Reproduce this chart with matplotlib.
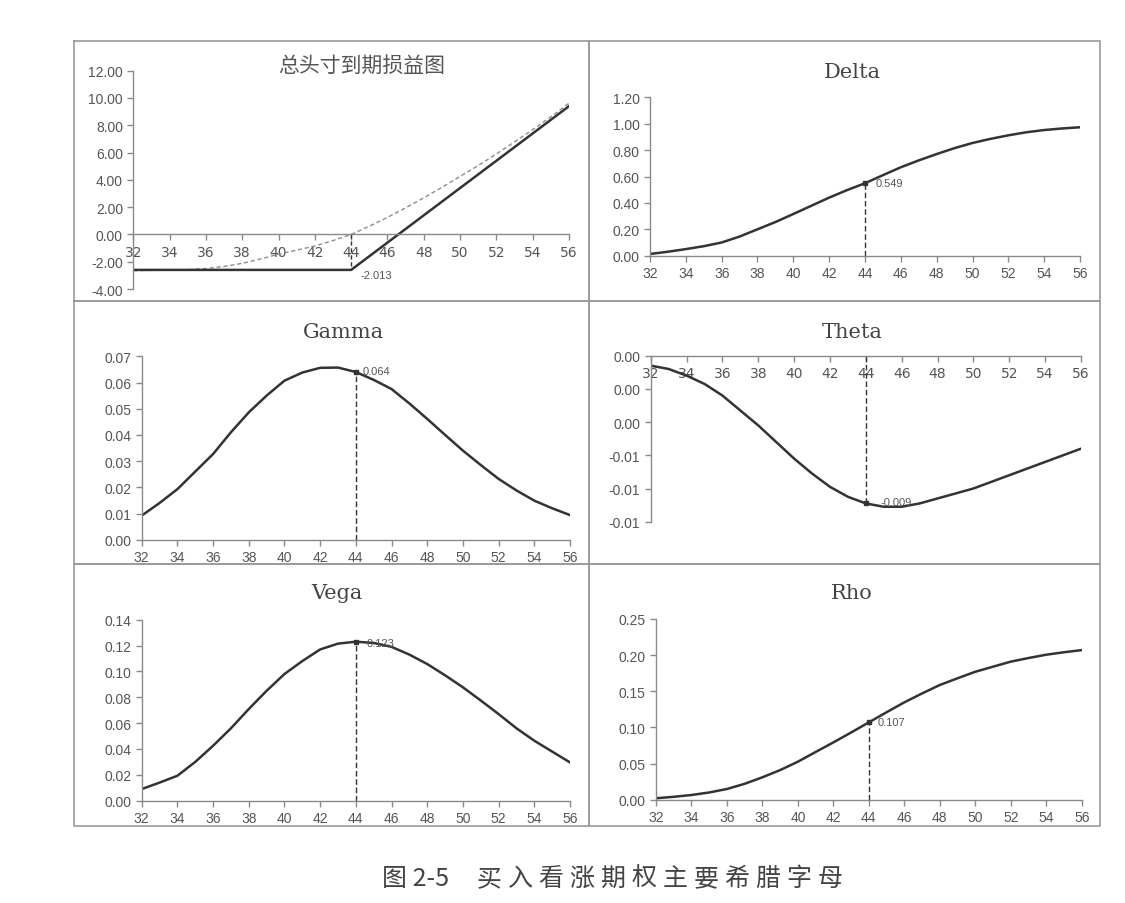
import matplotlib
matplotlib.use("Agg")
import matplotlib.pyplot as plt
from matplotlib.lines import Line2D

W, H = 1125, 904

# underlying price, one point per unit
price = list(range(32, 57))
strike = 44

# 总头寸到期损益图: expiry payoff (solid) and current value (dashed)
payoff_expiry = [-2.6] * 13 + [-1.6, -0.6, 0.4, 1.4, 2.4, 3.4, 4.4, 5.4, 6.4, 7.4, 8.4, 9.4]
payoff_now = [-2.66, -2.64, -2.62, -2.58, -2.5, -2.35, -2.12, -1.8, -1.45, -1.15, -0.85,
              -0.45, 0.0, 0.6, 1.25, 1.95, 2.68, 3.45, 4.25, 5.05, 5.9, 6.78, 7.68, 8.62, 9.62]

delta = [0.013, 0.03, 0.05, 0.072, 0.10, 0.145, 0.20, 0.255, 0.316, 0.378, 0.44, 0.497,
         0.549, 0.61, 0.67, 0.722, 0.77, 0.815, 0.854, 0.885, 0.912, 0.935, 0.952, 0.964, 0.973]
gamma = [0.0092, 0.014, 0.0193, 0.026, 0.0327, 0.041, 0.0486, 0.055, 0.0607, 0.0638, 0.0656,
         0.0657, 0.064, 0.061, 0.0575, 0.052, 0.0461, 0.040, 0.034, 0.0285, 0.0232, 0.0188,
         0.0149, 0.012, 0.0094]
theta = [-0.0006, -0.0008, -0.0012, -0.0017, -0.0024, -0.0033, -0.0042, -0.0052, -0.0062,
         -0.0071, -0.0079, -0.0085, -0.0089, -0.0091, -0.0091, -0.0089, -0.0086, -0.0083,
         -0.0080, -0.0076, -0.0072, -0.0068, -0.0064, -0.0060, -0.0056]
vega = [0.009, 0.014, 0.0193, 0.030, 0.0425, 0.056, 0.0709, 0.085, 0.098, 0.108, 0.117,
        0.1215, 0.123, 0.122, 0.119, 0.113, 0.1057, 0.097, 0.0877, 0.0775, 0.067, 0.056,
        0.0464, 0.038, 0.0296]
rho = [0.002, 0.004, 0.0065, 0.010, 0.0148, 0.022, 0.031, 0.041, 0.0526, 0.066, 0.0793,
       0.093, 0.107, 0.121, 0.1347, 0.147, 0.1587, 0.168, 0.177, 0.184, 0.191, 0.196,
       0.2006, 0.204, 0.207]

titles = ["总头寸到期损益图", "Delta", "Gamma", "Theta", "Vega", "Rho"]
point_labels = ["-2.013", "0.549", "0.064", "-0.009", "0.123", "0.107"]

x_ticks = list(range(32, 57, 2))
payoff_yticks = [-4, -2, 0, 2, 4, 6, 8, 10, 12]
delta_yticks = [0.0, 0.2, 0.4, 0.6, 0.8, 1.0, 1.2]
gamma_yticks = [0.0, 0.01, 0.02, 0.03, 0.04, 0.05, 0.06, 0.07]
theta_yticks = [0.0, -0.002, -0.004, -0.006, -0.008, -0.010]
theta_yticklabels = ["0.00", "0.00", "0.00", "-0.01", "-0.01", "-0.01"]
vega_yticks = [0.0, 0.02, 0.04, 0.06, 0.08, 0.10, 0.12, 0.14]
rho_yticks = [0.0, 0.05, 0.10, 0.15, 0.20, 0.25]

LINE = "#333333"
AXIS = "#8a8a8a"
TXT = "#555555"


def rect(x0, x1, ytop, ybot):
    return [x0 / W, 1 - ybot / H, (x1 - x0) / W, (ybot - ytop) / H]


def style(ax, yticks, ylim, yticklabels=None):
    ax.set_xlim(32, 56)
    ax.set_ylim(*ylim)
    ax.set_xticks(x_ticks)
    ax.set_yticks(yticks)
    if yticklabels is None:
        yticklabels = ["%.2f" % v for v in yticks]
    ax.set_yticklabels(yticklabels)
    for s in ["top", "right"]:
        ax.spines[s].set_visible(False)
    for s in ["left", "bottom"]:
        ax.spines[s].set_color(AXIS)
        ax.spines[s].set_linewidth(1.0)
    ax.tick_params(colors=AXIS, labelcolor=TXT, labelsize=10, length=4, width=1,
                   direction="out")
    ax.patch.set_alpha(0)
    for lab in ax.get_xticklabels() + ax.get_yticklabels():
        lab.set_family("Liberation Sans")


def mark(ax, series, label, base=0.0, dx=0.35, dy=0.0):
    yv = series[price.index(strike)]
    ax.plot([strike, strike], [base, yv], color=LINE, lw=1, ls=(0, (4, 2)))
    ax.plot([strike], [yv], marker="s", ms=2.5, color=LINE)
    ax.text(strike + dx, yv + dy, label, fontsize=8, color=TXT, va="center",
            family="Liberation Sans")


fig = plt.figure(figsize=(W / 100, H / 100), dpi=100)
fig.patch.set_facecolor("white")

# panel frames
for x0, x1, y0, y1 in [(74, 589, 42, 302), (589, 1100, 42, 302),
                       (74, 589, 302, 565), (589, 1100, 302, 565),
                       (74, 589, 565, 827), (589, 1100, 565, 827)]:
    fig.add_artist(Line2D([x0 / W, x1 / W, x1 / W, x0 / W, x0 / W],
                          [1 - y0 / H, 1 - y0 / H, 1 - y1 / H, 1 - y1 / H, 1 - y0 / H],
                          color="#9a9a9a", lw=1.2, transform=fig.transFigure))

# payoff
ax = fig.add_axes(rect(133.3, 569, 71.7, 290))
ax.plot(price, payoff_now, color="#8c8c8c", lw=1.0, ls=(0, (3, 2)))
ax.plot(price, payoff_expiry, color=LINE, lw=1.8)
style(ax, payoff_yticks, (-4, 12))
ax.spines["bottom"].set_position(("data", 0))
ax.plot([strike, strike], [0, payoff_expiry[price.index(strike)]], color=LINE, lw=1,
        ls=(0, (3, 2)))
ax.text(44.5, -2.95, point_labels[0], fontsize=8, color=TXT, va="center",
        family="Liberation Sans")

# delta
ax = fig.add_axes(rect(650, 1080, 98.3, 256.7))
ax.plot(price, delta, color=LINE, lw=1.8)
style(ax, delta_yticks, (0, 1.2))
mark(ax, delta, point_labels[1], dx=0.6)

# gamma
ax = fig.add_axes(rect(141.7, 570, 357.3, 540.7))
ax.plot(price, gamma, color=LINE, lw=1.8)
style(ax, gamma_yticks, (0, 0.07))
mark(ax, gamma, point_labels[2], dx=0.4, dy=0.0005)

# theta
ax = fig.add_axes(rect(650.7, 1081, 356.7, 522.7))
ax.plot(price, theta, color=LINE, lw=1.8)
style(ax, theta_yticks, (-0.010, 0.0), theta_yticklabels)
ax.spines["bottom"].set_position(("data", 0))
mark(ax, theta, point_labels[3], dx=0.8, dy=0.0001)

# vega
ax = fig.add_axes(rect(141.7, 570, 620.7, 801.7))
ax.plot(price, vega, color=LINE, lw=1.8)
style(ax, vega_yticks, (0, 0.14))
mark(ax, vega, point_labels[4], dx=0.6, dy=-0.001)

# rho
ax = fig.add_axes(rect(656, 1081.7, 620, 800.7))
ax.plot(price, rho, color=LINE, lw=1.8)
style(ax, rho_yticks, (0, 0.25))
mark(ax, rho, point_labels[5], dx=0.5, dy=0.0)

# titles
title_pos = [(362, 66), (852, 72), (343, 332), (852, 332), (337, 594), (852, 594)]
for i, (t, (tx, ty)) in enumerate(zip(titles, title_pos)):
    if i == 0:
        fig.text(tx / W, 1 - ty / H, t, ha="center", va="center", fontsize=15,
                 color=TXT, family=["Noto Sans CJK SC", "DejaVu Sans"])
    else:
        fig.text(tx / W, 1 - ty / H, t, ha="center", va="center", fontsize=15,
                 color="#444444", family="DejaVu Serif")

# caption
cap_font = ["Noto Sans CJK SC", "DejaVu Sans"]
fig.text(382 / W, 1 - 879 / H, "图 2-5", ha="left", va="center", fontsize=18,
         color="#444444", family=cap_font)
for i, ch in enumerate("买入看涨期权主要希腊字母"):
    fig.text((489 + 31.0 * i) / W, 1 - 879 / H, ch, ha="center", va="center",
             fontsize=18, color="#444444", family=cap_font)

fig.savefig("out.png", dpi=100)
